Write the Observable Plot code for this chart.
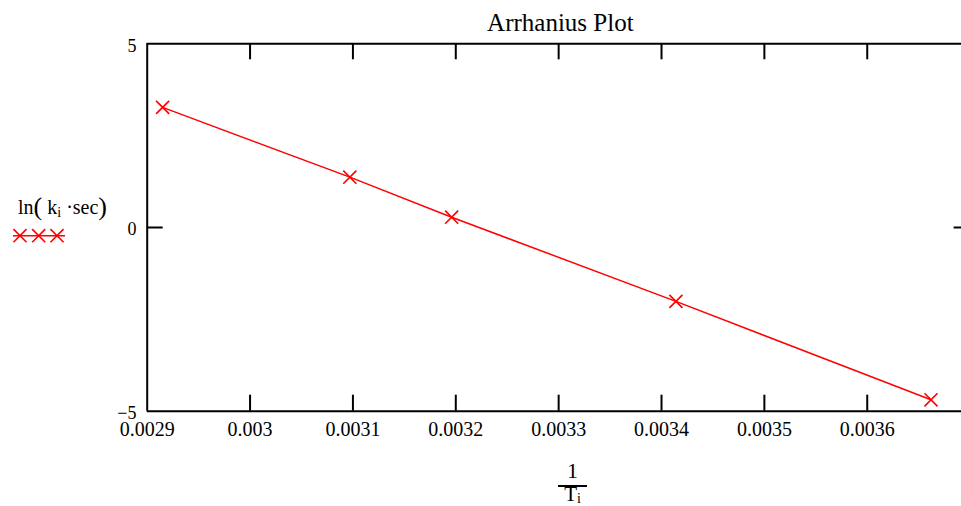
<!DOCTYPE html>
<html><head><meta charset="utf-8">
<script src="https://cdn.jsdelivr.net/npm/d3@7"></script>
<script src="https://cdn.jsdelivr.net/npm/@observablehq/plot@0.6"></script>
<style>html,body{margin:0;padding:0;background:#fff;overflow:hidden}</style>
</head><body><div id="chart"></div>
<script>
// Data
const invT = [0.002915, 0.003097, 0.003196, 0.003414, 0.003662];
const lnK = [3.27, 1.37, 0.28, -2.01, -4.69];
const xTicks = [0.0029, 0.003, 0.0031, 0.0032, 0.0033, 0.0034, 0.0035, 0.0036];
const xInnerTicks = [0.003, 0.0031, 0.0032, 0.0033, 0.0034, 0.0035, 0.0036];
const yTicks = [-5, 0, 5];
const yInnerTicks = [0];
const xDomain = [0.0029, 0.0037];
const yDomain = [-5, 5];
const titleText = "Arrhanius Plot";

const data = invT.map((x, i) => ({x, y: lnK[i]}));

const W = 961, H = 506, L = 146.7, T = 43.3, B = 410.7, R = 969.6;
const frameH = B - T, frameW = W - L, tickLen = 16;
const red = "#ff0000";
const font = "Liberation Serif, Times New Roman, serif";
const fmt = d => d < 0 ? "\u2212" + Math.abs(d) : String(d);

const plot = Plot.plot({
  width: W, height: H,
  marginLeft: L, marginTop: T, marginBottom: H - B, marginRight: 0,
  x: {domain: xDomain, range: [L, R], axis: null},
  y: {domain: yDomain, range: [B, T], axis: null},
  style: {fontFamily: font, background: "#fff", color: "#000", overflow: "hidden"},
  marks: [
    Plot.line(data, {x: "x", y: "y", stroke: red, strokeWidth: 1.5}),
    Plot.dot(data, {x: "x", y: "y", symbol: "times", r: 6, stroke: red, strokeWidth: 1.6}),
    Plot.ruleY([yDomain[1], yDomain[0]], {y: d => d, stroke: "#000", strokeWidth: 2}),
    Plot.ruleX([xDomain[0]], {x: d => d, stroke: "#000", strokeWidth: 2}),
    Plot.tickX(xInnerTicks, {x: d => d, insetBottom: frameH - tickLen, stroke: "#000", strokeWidth: 2}),
    Plot.tickX(xInnerTicks, {x: d => d, insetTop: frameH - tickLen, stroke: "#000", strokeWidth: 2}),
    Plot.tickY(yInnerTicks, {y: d => d, insetRight: frameW - tickLen, stroke: "#000", strokeWidth: 2}),
    Plot.tickY(yInnerTicks, {y: d => d, insetLeft: frameW - (tickLen - (R - W)), stroke: "#000", strokeWidth: 2}),
    Plot.text(xTicks, {x: d => d, text: d => String(d), frameAnchor: "bottom", lineAnchor: "top", dy: 11, fontSize: 20, fill: "#000"}),
    Plot.text(yTicks, {y: d => d, text: fmt, frameAnchor: "left", textAnchor: "end", dx: -10.7, dy: 2, fontSize: 18, fill: "#000"}),
    Plot.text([titleText], {frameAnchor: "top", lineAnchor: "bottom", dy: -13.3, dx: 6, fontSize: 25, fill: "#000"})
  ]
});

const svg = d3.select(plot);
// y-axis legend label: ln( k_i ·sec)
const lg = svg.append("text").attr("x", 18).attr("y", 214).attr("text-anchor", "start")
  .attr("font-family", font).attr("font-size", 20).attr("fill", "#000");
lg.append("tspan").text("ln");
lg.append("tspan").attr("font-size", 26).attr("dy", 1).text("(");
lg.append("tspan").attr("dy", -1).text("\u00a0k");
lg.append("tspan").attr("font-size", 14).attr("dy", 3).text("i");
lg.append("tspan").attr("dy", -3).text("\u00a0\u00b7sec");
lg.append("tspan").attr("font-size", 26).attr("dy", 1).text(")");
// legend sample
svg.append("line").attr("x1", 13).attr("x2", 65).attr("y1", 235.7).attr("y2", 235.7)
  .attr("stroke", red).attr("stroke-width", 1.5);
const sym = d3.symbol(d3.symbolTimes).size(Math.PI * 36)();
[20, 38.7, 57].forEach(cx => {
  svg.append("path").attr("d", sym).attr("transform", `translate(${cx},235.7)`)
    .attr("fill", "none").attr("stroke", red).attr("stroke-width", 1.6);
});
// x-axis label: 1 / T_i
const cx = 572.5;
svg.append("text").attr("x", cx).attr("y", 478).attr("text-anchor", "middle")
  .attr("font-family", font).attr("font-size", 22).attr("fill", "#000").text("1");
svg.append("line").attr("x1", 558).attr("x2", 587).attr("y1", 486).attr("y2", 486)
  .attr("stroke", "#000").attr("stroke-width", 2);
const tl = svg.append("text").attr("x", cx).attr("y", 501).attr("text-anchor", "middle")
  .attr("font-family", font).attr("font-size", 21).attr("fill", "#000");
tl.append("tspan").text("T");
tl.append("tspan").attr("font-size", 14).attr("dy", 2).text("i");

document.getElementById("chart").appendChild(plot);
</script>
</body></html>
